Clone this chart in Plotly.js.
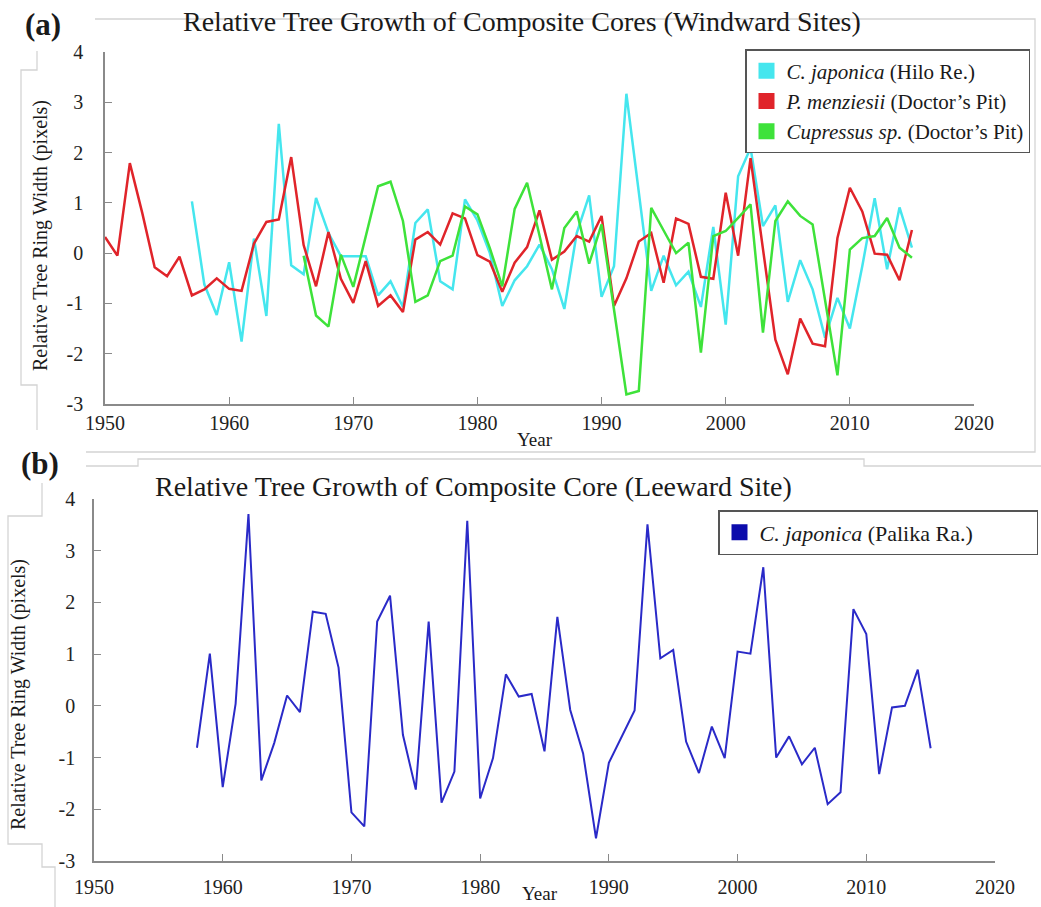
<!DOCTYPE html>
<html>
<head>
<meta charset="utf-8">
<script src="https://cdn.plot.ly/plotly-3.0.1.min.js"></script>
<style>html,body{margin:0;padding:0;background:#fff;}#chart{width:1041px;height:907px;}</style>
</head>
<body>
<div id="chart"></div>
<script>
// ---------- DATA ----------
const redStart = 1950;   // P. menziesii (Doctor's Pit)
const redValues = [0.32,-0.05,1.79,0.8,-0.28,-0.46,-0.07,-0.84,-0.72,-0.50,
  -0.71,-0.75,0.19,0.62,0.67,1.91,0.16,-0.66,0.42,-0.51,
  -0.99,-0.16,-1.05,-0.84,-1.17,0.27,0.42,0.17,0.79,0.69,
  -0.04,-0.17,-0.77,-0.19,0.12,0.85,-0.13,0.03,0.34,0.23,
  0.74,-1.05,-0.50,0.23,0.40,-0.59,0.69,0.58,-0.47,-0.51,
  1.20,-0.05,1.89,0.1,-1.72,-2.41,-1.30,-1.80,-1.85,0.30,
  1.30,0.83,-0.01,-0.03,-0.54,0.46];

const cyanStart = 1957;  // C. japonica (Hilo Re.)
const cyanValues = [1.03,-0.62,-1.23,
  -0.18,-1.76,0.29,-1.25,2.57,-0.24,-0.42,1.10,0.40,-0.06,
  -0.06,-0.06,-0.84,-0.56,-1.07,0.60,0.87,-0.56,-0.72,1.07,
  0.65,0.0,-1.05,-0.54,-0.26,0.17,-0.32,-1.11,0.40,1.15,
  -0.87,-0.26,3.17,1.2,-0.75,-0.05,-0.64,-0.37,-1.07,0.52,
  -1.42,1.53,2.09,0.54,0.95,-0.97,-0.14,-0.72,-1.68,-0.89,
  -1.50,-0.26,1.09,-0.32,0.91,0.11];

const greenStart = 1966; // Cupressus sp. (Doctor's Pit)
const greenValues = [-0.05,-1.24,-1.46,-0.03,
  -0.67,0.35,1.33,1.42,0.64,-0.97,-0.84,-0.16,-0.05,0.93,
  0.77,0.1,-0.66,0.88,1.40,0.35,-0.72,0.50,0.83,-0.21,
  0.57,-1.12,-2.81,-2.74,0.90,0.45,0.0,0.21,-1.98,0.34,
  0.44,0.70,0.97,-1.58,0.64,1.03,0.74,0.57,-0.93,-2.43,
  0.07,0.30,0.34,0.70,0.11,-0.09];

const blueStart = 1958;  // C. japonica (Palika Ra.)
const blueValues = [-0.81,1.01,
  -1.57,0.04,3.71,-1.44,-0.72,0.20,-0.12,1.82,1.78,0.74,
  -2.06,-2.33,1.63,2.13,-0.56,-1.62,1.63,-1.87,-1.27,3.58,
  -1.79,-1.01,0.61,0.18,0.23,-0.88,1.72,-0.08,-0.92,-2.56,
  -1.10,-0.59,-0.09,3.51,0.92,1.08,-0.69,-1.30,-0.40,-1.01,
  1.05,1.01,2.68,-1.00,-0.59,-1.13,-0.81,-1.90,-1.67,1.87,
  1.39,-1.32,-0.03,0.0,0.70,-0.82];

const xTicks = [1950,1960,1970,1980,1990,2000,2010,2020];
const yTicks = [-3,-2,-1,0,1,2,3,4];
const yTickLabels = ['-3','-2','-1','0','1','2','3','4'];

const seriesTop = [
  {name:'<i>C. japonica</i> (Hilo Re.)', start: cyanStart, values: cyanValues, color:'#45e6ee'},
  {name:'<i>P. menziesii</i> (Doctor’s Pit)', start: redStart, values: redValues, color:'#e0242a'},
  {name:'<i>Cupressus sp.</i> (Doctor’s Pit)', start: greenStart, values: greenValues, color:'#3ee23a'}
];
const seriesBottom = {name:'<i>C. japonica</i> (Palika Ra.)', start: blueStart, values: blueValues, color:'#2a2ac8', swatch:'#0c0cac'};

// ---------- BUILD ----------
const W = 1041, H = 907;
const px = x => x / W;
const py = y => 1 - y / H;
const yearsOf = s => s.values.map((_, i) => s.start + i);
const FONT = 'Liberation Serif';

const traces = [];
seriesTop.forEach(s => {
  traces.push({type:'scatter', mode:'lines', x: yearsOf(s), y: s.values, xaxis:'x', yaxis:'y',
    line:{color:s.color, width:2.5}, showlegend:false, hoverinfo:'x+y'});
});
seriesTop.forEach(s => {
  traces.push({type:'scatter', mode:'markers', x:[null], y:[null], xaxis:'x', yaxis:'y', name:s.name,
    marker:{symbol:'square', size:16, color:s.color}, legend:'legend', showlegend:true});
});
traces.push({type:'scatter', mode:'lines', x: yearsOf(seriesBottom), y: seriesBottom.values, xaxis:'x2', yaxis:'y2',
  line:{color:seriesBottom.color, width:2}, showlegend:false});
traces.push({type:'scatter', mode:'markers', x:[null], y:[null], xaxis:'x2', yaxis:'y2', name:seriesBottom.name,
  marker:{symbol:'square', size:16, color:seriesBottom.swatch}, legend:'legend2', showlegend:true});

const axisCommon = {
  showline:true, linecolor:'#8a8a8a', linewidth:1.5, ticks:'inside', ticklen:7, tickcolor:'#8a8a8a', tickwidth:1.2,
  showgrid:false, zeroline:false, tickfont:{family:FONT, size:20, color:'#222'}, fixedrange:true
};

function pathOf(pts){ return pts.map((p,i)=> (i? 'L':'M') + px(p[0]) + ',' + py(p[1])).join(' '); }
const frameLines = [
  [[95,19],[1035,19],[1035,452],[86,452]],
  [[37,51],[37,70],[21,70],[21,385],[37,385],[37,430]],
  [[86,466],[138,466],[138,459],[864,459],[864,466],[1041,466]],
  [[42,483],[42,516],[8,516],[8,844],[42,844],[42,867],[55,867],[55,907]]
];
const shapes = frameLines.map(pts => ({type:'path', xref:'paper', yref:'paper', path:pathOf(pts),
  line:{color:'#d4d4d4', width:1.3}, layer:'below'}));

const ann = (text, x, y, size, opts={}) => Object.assign({text, x:px(x), y:py(y), xref:'paper', yref:'paper',
  showarrow:false, xanchor:'center', yanchor:'middle', font:{family:FONT, size, color:'#1a1a1a'}}, opts);

const annotations = [
  ann('<b>(a)</b>', 43, 24, 31),
  ann('Relative Tree Growth of Composite Cores (Windward Sites)', 522, 22, 28),
  ann('Relative Tree Ring Width (pixels)', 40, 236, 20, {textangle:-90}),
  ann('Year', 535, 440, 19),
  ann('<b>(b)</b>', 40, 463, 31),
  ann('Relative Tree Growth of Composite Core (Leeward Site)', 473, 486, 28),
  ann('Relative Tree Ring Width (pixels)', 18, 695, 20, {textangle:-90}),
  ann('Year', 540, 893, 19)
];

const layout = {
  width:W, height:H, margin:{l:0, r:0, t:0, b:0, autoexpand:false},
  paper_bgcolor:'#fff', plot_bgcolor:'#fff', font:{family:FONT, color:'#1a1a1a'},
  xaxis: Object.assign({}, axisCommon, {domain:[px(105), px(974)], range:[1950,2020], tickvals:xTicks, anchor:'y', ticklabelstandoff:0}),
  yaxis: Object.assign({}, axisCommon, {domain:[py(404), py(52)], range:[-3,4], tickvals:yTicks, ticktext:yTickLabels, anchor:'x', ticklabelstandoff:16}),
  xaxis2: Object.assign({}, axisCommon, {domain:[px(94), px(995)], range:[1950,2020], tickvals:xTicks, anchor:'y2', ticklabelstandoff:7}),
  yaxis2: Object.assign({}, axisCommon, {domain:[py(861), py(499)], range:[-3,4], tickvals:yTicks, ticktext:yTickLabels, anchor:'x2', ticklabelstandoff:13}),
  legend:{x:px(745), y:py(49), xanchor:'left', yanchor:'top', bgcolor:'#fff', bordercolor:'#555', borderwidth:1.5,
    font:{family:FONT, size:21, color:'#1a1a1a'}, tracegroupgap:0},
  legend2:{x:px(718), y:py(510), xanchor:'left', yanchor:'top', bgcolor:'#fff', bordercolor:'#555', borderwidth:1.5,
    orientation:'h', entrywidth:272, entrywidthmode:'pixels',
    font:{family:FONT, size:22, color:'#1a1a1a'}},
  shapes, annotations, showlegend:true
};

Plotly.newPlot('chart', traces, layout, {displayModeBar:false, responsive:false});
</script>
</body>
</html>
